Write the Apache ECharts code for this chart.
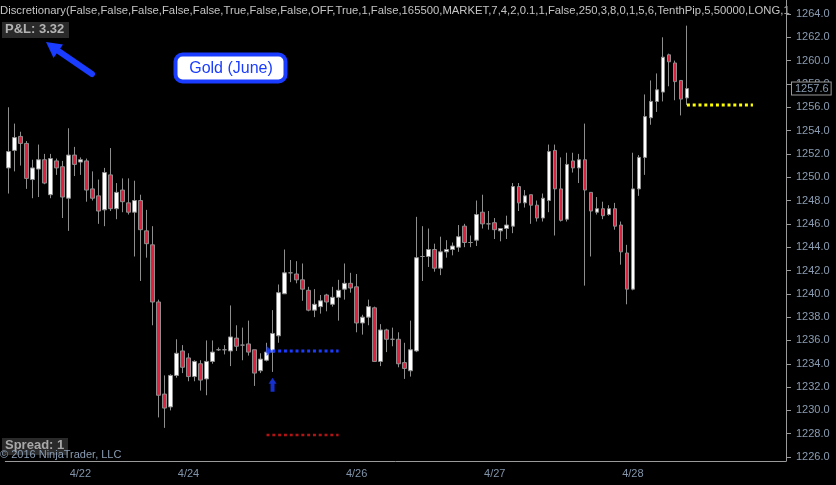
<!DOCTYPE html>
<html>
<head>
<meta charset="utf-8">
<script src="https://cdn.jsdelivr.net/npm/echarts@6/dist/echarts.min.js"></script>
<style>
  html, body { margin: 0; padding: 0; background: #000; }
  #main { width: 836px; height: 485px; }
</style>
</head>
<body>
<div id="main"></div>
<script>
// Gold (June) - bars
const opens = [
  1250.8, 1252.3, 1253.5, 1252.9, 1249.8, 1250.7, 1251.5, 1248.5, 1251.4, 1250.9,
  1248.2, 1251.9, 1251.3, 1251.4, 1249.0, 1248.4, 1247.2, 1250.2, 1247.3, 1248.9,
  1247.8, 1247.0, 1248.0, 1245.4, 1244.2, 1239.3, 1231.4, 1230.3, 1233.0, 1235.1,
  1234.5, 1232.9, 1234.0, 1232.7, 1234.2, 1235.2, 1235.2, 1235.1, 1236.2, 1235.6,
  1235.7, 1235.2, 1233.4, 1234.3, 1235.0, 1236.4, 1240.0, 1241.8, 1241.7, 1241.2,
  1240.3, 1238.6, 1238.9, 1239.9, 1239.1, 1239.7, 1240.4, 1240.9, 1240.6, 1237.5,
  1238.0, 1238.8, 1234.2, 1236.9, 1236.1, 1236.1, 1234.1, 1233.4, 1235.1, 1243.2,
  1243.2, 1243.8, 1242.2, 1243.6, 1243.8, 1244.0, 1245.8, 1244.4, 1244.6, 1247.0,
  1246.0, 1246.1, 1245.4, 1245.6, 1245.8, 1249.2, 1247.8, 1248.5, 1247.6, 1246.5,
  1248.0, 1252.3, 1249.0, 1246.4, 1251.4, 1250.8, 1251.5, 1248.7, 1247.0, 1247.3,
  1246.8, 1247.3, 1245.9, 1243.5, 1240.4, 1249.0, 1251.7, 1255.1, 1256.5, 1257.3,
  1260.5, 1259.8, 1258.3, 1256.8
];
const closes = [
  1252.2, 1253.4, 1252.9, 1249.9, 1250.8, 1251.5, 1249.5, 1251.6, 1250.8, 1248.3,
  1251.9, 1251.1, 1251.5, 1248.9, 1248.2, 1247.1, 1250.4, 1247.3, 1248.7, 1247.9,
  1247.0, 1248.0, 1245.5, 1244.3, 1239.3, 1231.3, 1230.2, 1233.0, 1234.9, 1233.7,
  1232.9, 1234.2, 1232.6, 1234.2, 1235.0, 1235.2, 1235.2, 1236.3, 1235.5, 1235.6,
  1235.0, 1233.2, 1234.4, 1235.0, 1236.6, 1240.1, 1241.8, 1241.8, 1241.2, 1240.4,
  1238.6, 1239.1, 1239.4, 1239.3, 1239.7, 1240.3, 1240.9, 1240.5, 1237.5, 1238.0,
  1238.9, 1234.2, 1236.9, 1236.1, 1236.1, 1234.0, 1233.6, 1235.2, 1243.1, 1243.2,
  1243.8, 1242.2, 1243.6, 1243.8, 1244.1, 1244.9, 1244.4, 1244.4, 1246.8, 1246.0,
  1246.0, 1245.5, 1245.6, 1245.9, 1249.2, 1247.8, 1248.4, 1247.6, 1246.5, 1248.2,
  1252.2, 1249.0, 1246.3, 1251.1, 1250.8, 1251.5, 1248.9, 1247.1, 1247.3, 1246.7,
  1247.3, 1245.8, 1243.6, 1240.4, 1249.0, 1251.7, 1255.2, 1256.5, 1257.5, 1260.3,
  1259.9, 1258.2, 1256.7, 1257.6
];
const lows = [
  1248.6, 1250.5, 1251.0, 1249.0, 1248.2, 1248.3, 1249.4, 1248.2, 1250.2, 1246.5,
  1245.4, 1250.1, 1250.2, 1247.9, 1248.0, 1246.0, 1245.8, 1247.1, 1246.4, 1247.0,
  1246.8, 1243.2, 1241.1, 1243.1, 1237.3, 1229.4, 1228.5, 1230.0, 1232.8, 1233.2,
  1232.5, 1232.5, 1231.7, 1231.3, 1234.0, 1235.1, 1234.8, 1233.8, 1235.1, 1234.3,
  1234.7, 1232.1, 1233.2, 1234.2, 1233.3, 1235.8, 1240.0, 1241.0, 1240.9, 1239.4,
  1238.5, 1238.0, 1238.3, 1238.5, 1238.9, 1237.7, 1239.5, 1240.1, 1236.7, 1236.5,
  1237.3, 1234.2, 1233.8, 1235.0, 1235.5, 1233.7, 1232.7, 1232.9, 1235.0, 1241.1,
  1242.3, 1241.9, 1241.6, 1243.1, 1243.3, 1243.6, 1244.0, 1244.0, 1244.1, 1245.6,
  1245.5, 1244.7, 1244.5, 1244.7, 1245.2, 1247.1, 1247.4, 1246.0, 1246.2, 1246.2,
  1247.0, 1245.0, 1246.2, 1246.2, 1250.4, 1249.5, 1240.7, 1243.2, 1246.8, 1246.4,
  1246.7, 1245.5, 1242.5, 1239.1, 1240.3, 1248.4, 1250.2, 1254.5, 1255.6, 1256.5,
  1257.8, 1256.6, 1255.3, 1256.2
];
const highs = [
  1256.0, 1254.6, 1253.9, 1253.1, 1251.5, 1252.8, 1252.0, 1252.0, 1251.6, 1251.4,
  1254.2, 1252.6, 1251.7, 1251.6, 1250.5, 1249.8, 1250.8, 1252.5, 1249.5, 1249.9,
  1249.9, 1249.7, 1248.5, 1247.2, 1245.8, 1239.5, 1233.0, 1233.1, 1236.1, 1235.6,
  1234.9, 1234.3, 1234.3, 1236.0, 1236.0, 1235.4, 1235.6, 1239.0, 1237.3, 1237.1,
  1237.7, 1235.2, 1234.9, 1235.8, 1238.6, 1240.8, 1243.8, 1242.9, 1242.8, 1242.6,
  1240.6, 1240.4, 1239.9, 1240.0, 1240.6, 1241.2, 1242.6, 1241.8, 1241.7, 1238.2,
  1239.5, 1238.9, 1237.4, 1237.0, 1237.1, 1236.7, 1235.8, 1237.7, 1246.6, 1245.8,
  1245.6, 1244.3, 1244.9, 1244.6, 1244.4, 1245.9, 1246.0, 1245.0, 1248.0, 1248.5,
  1247.1, 1246.5, 1245.6, 1246.7, 1249.5, 1249.5, 1248.9, 1248.5, 1248.0, 1248.6,
  1252.8, 1252.8, 1251.7, 1252.1, 1252.1, 1252.0, 1254.6, 1248.7, 1248.3, 1247.9,
  1247.6, 1247.8, 1246.2, 1244.2, 1252.1, 1251.9, 1257.1, 1258.3, 1258.9, 1262.0,
  1260.6, 1260.0, 1258.3, 1263.0
];

// x axis: session labels sit on bar indexes, the rest of the slots are empty space
const slotCount = 130;
const tickIndex = [12, 30, 35, 58, 81, 104];
const tickText = ['4/22', '4/24', '', '4/26', '4/27', '4/28'];
const yTicks = [1226, 1228, 1230, 1232, 1234, 1236, 1238, 1240, 1242, 1244,
  1246, 1248, 1250, 1252, 1254, 1256, 1258, 1260, 1262, 1264];

// trade levels
const entryBar = 44;
const entryPrice = 1235.1;
const arrowPrice = 1232.2;
const entrySpan = [43, 55];
const stopPrice = 1227.9;
const stopSpan = [43, 55];
const targetPrice = 1256.2;
const targetSpan = [113, 124];
const lastPrice = 1257.6;

const header = 'Discretionary(False,False,False,False,False,True,False,False,OFF,True,1,False,165500,MARKET,7,4,2,0.1,1,False,250,3,8,0,1,5,6,TenthPip,5,50000,LONG,1';

const categories = [];
for (let i = 0; i < slotCount; i++) categories.push(String(i));
const bars = opens.map((o, i) => [o, closes[i], lows[i], highs[i]]);

const font = '"Liberation Sans", Arial, sans-serif';
const blue = '#1a3cff';

let myChart = echarts.init(document.getElementById('main'));

let option = {
  backgroundColor: '#000',
  animation: false,
  grid: { left: 5.3, right: 50, top: 0, bottom: 24 },
  xAxis: {
    type: 'category',
    data: categories,
    boundaryGap: true,
    axisLine: { lineStyle: { color: '#9a9a9a', width: 1 } },
    axisTick: {
      alignWithLabel: true,
      length: 5,
      interval: (i) => tickIndex.indexOf(i) >= 0,
      lineStyle: { color: '#9a9a9a' }
    },
    axisLabel: {
      interval: (i) => tickIndex.indexOf(i) >= 0 && tickText[tickIndex.indexOf(i)] !== '',
      formatter: (v) => tickText[tickIndex.indexOf(Number(v))] || '',
      color: '#8194aa',
      fontSize: 11,
      fontFamily: font,
      margin: 7
    },
    splitLine: { show: false }
  },
  yAxis: {
    type: 'value',
    position: 'right',
    min: 1225.66,
    max: 1265.2,
    scale: true,
    axisLine: { show: true, lineStyle: { color: '#9a9a9a', width: 1 } },
    axisTick: { show: true, length: 5, customValues: yTicks, lineStyle: { color: '#9a9a9a' } },
    axisLabel: {
      customValues: yTicks,
      formatter: (v) => v.toFixed(1),
      color: '#8a9cb2',
      fontSize: 11,
      fontFamily: font,
      margin: 10
    },
    splitLine: { show: false }
  },
  series: [
    {
      type: 'candlestick',
      data: bars,
      barWidth: 4,
      itemStyle: {
        color: '#ffffff',
        color0: '#e0203c',
        borderColor: '#8e8e8e',
        borderColor0: '#8e8e8e',
        borderWidth: 1
      },
      markLine: {
        silent: true,
        symbol: 'none',
        data: [{ yAxis: lastPrice }],
        lineStyle: { color: 'rgba(0,0,0,0)', width: 0 },
        label: {
          show: true,
          position: 'end',
          distance: 6,
          formatter: lastPrice.toFixed(1),
          color: '#8a9cb2',
          fontSize: 11,
          fontFamily: font,
          backgroundColor: '#000',
          borderColor: '#9a9a9a',
          borderWidth: 1,
          padding: [1, 2, 0, 3]
        }
      },
      z: 3
    },
    {
      type: 'line',
      data: [[entrySpan[0], entryPrice], [entrySpan[1], entryPrice]],
      symbol: 'none',
      lineStyle: { color: blue, width: 3, type: [3, 2.8], cap: 'butt' },
      z: 4
    },
    {
      type: 'line',
      data: [[stopSpan[0], stopPrice], [stopSpan[1], stopPrice]],
      symbol: 'none',
      lineStyle: { color: '#b01414', width: 2.5, type: [3, 2.8], cap: 'butt' },
      z: 4
    },
    {
      type: 'line',
      data: [[targetSpan[0], targetPrice], [targetSpan[1], targetPrice]],
      symbol: 'none',
      lineStyle: { color: '#ffff00', width: 3, type: [3, 2.8], cap: 'butt' },
      z: 4
    },
    {
      // entry triangle + long signal arrow
      type: 'scatter',
      data: [
        { value: [entryBar, entryPrice], symbol: 'triangle', symbolSize: [10, 6], symbolRotate: -90, symbolOffset: [-3, 0] },
        { value: [entryBar, arrowPrice], symbol: 'path://M4,0 L8,6 L6,6 L6,14 L2,14 L2,6 L0,6 Z', symbolSize: [8, 14] }
      ],
      itemStyle: { color: blue },
      z: 5
    }
  ],
  graphic: [
    { type: 'text', left: 0, top: 5, style: { text: header, fill: '#c4c4c4', font: '11.3px ' + font } },
    { type: 'rect', shape: { x: 2, y: 22, width: 67, height: 16 }, style: { fill: '#2a2a2a' } },
    { type: 'text', left: 5, top: 23, style: { text: 'P&L: 3.32', fill: '#b4b4b4', font: 'bold 13px ' + font } },
    { type: 'line', shape: { x1: 57, y1: 50, x2: 92, y2: 74 }, style: { stroke: blue, lineWidth: 6, lineCap: 'round' } },
    { type: 'polygon', shape: { points: [[46, 42], [63, 44.5], [53.5, 58]] }, style: { fill: blue } },
    { type: 'rect', shape: { x: 175.5, y: 54.5, width: 110, height: 27, r: 7 }, style: { fill: '#fff', stroke: blue, lineWidth: 4 } },
    { type: 'text', x: 231, y: 68.5, style: { text: 'Gold (June)', fill: blue, font: '16px ' + font, align: 'center', verticalAlign: 'middle' } },
    { type: 'rect', shape: { x: 2, y: 438, width: 66, height: 17 }, style: { fill: '#2a2a2a' } },
    { type: 'text', left: 5, top: 439, style: { text: 'Spread: 1', fill: '#a8a8a8', font: 'bold 13px ' + font } },
    { type: 'text', left: 0, top: 449, style: { text: '\u00a9 2016 NinjaTrader, LLC', fill: '#8a9cb2', font: '11px ' + font } }
  ]
};
myChart.setOption(option);
</script>
</body>
</html>
